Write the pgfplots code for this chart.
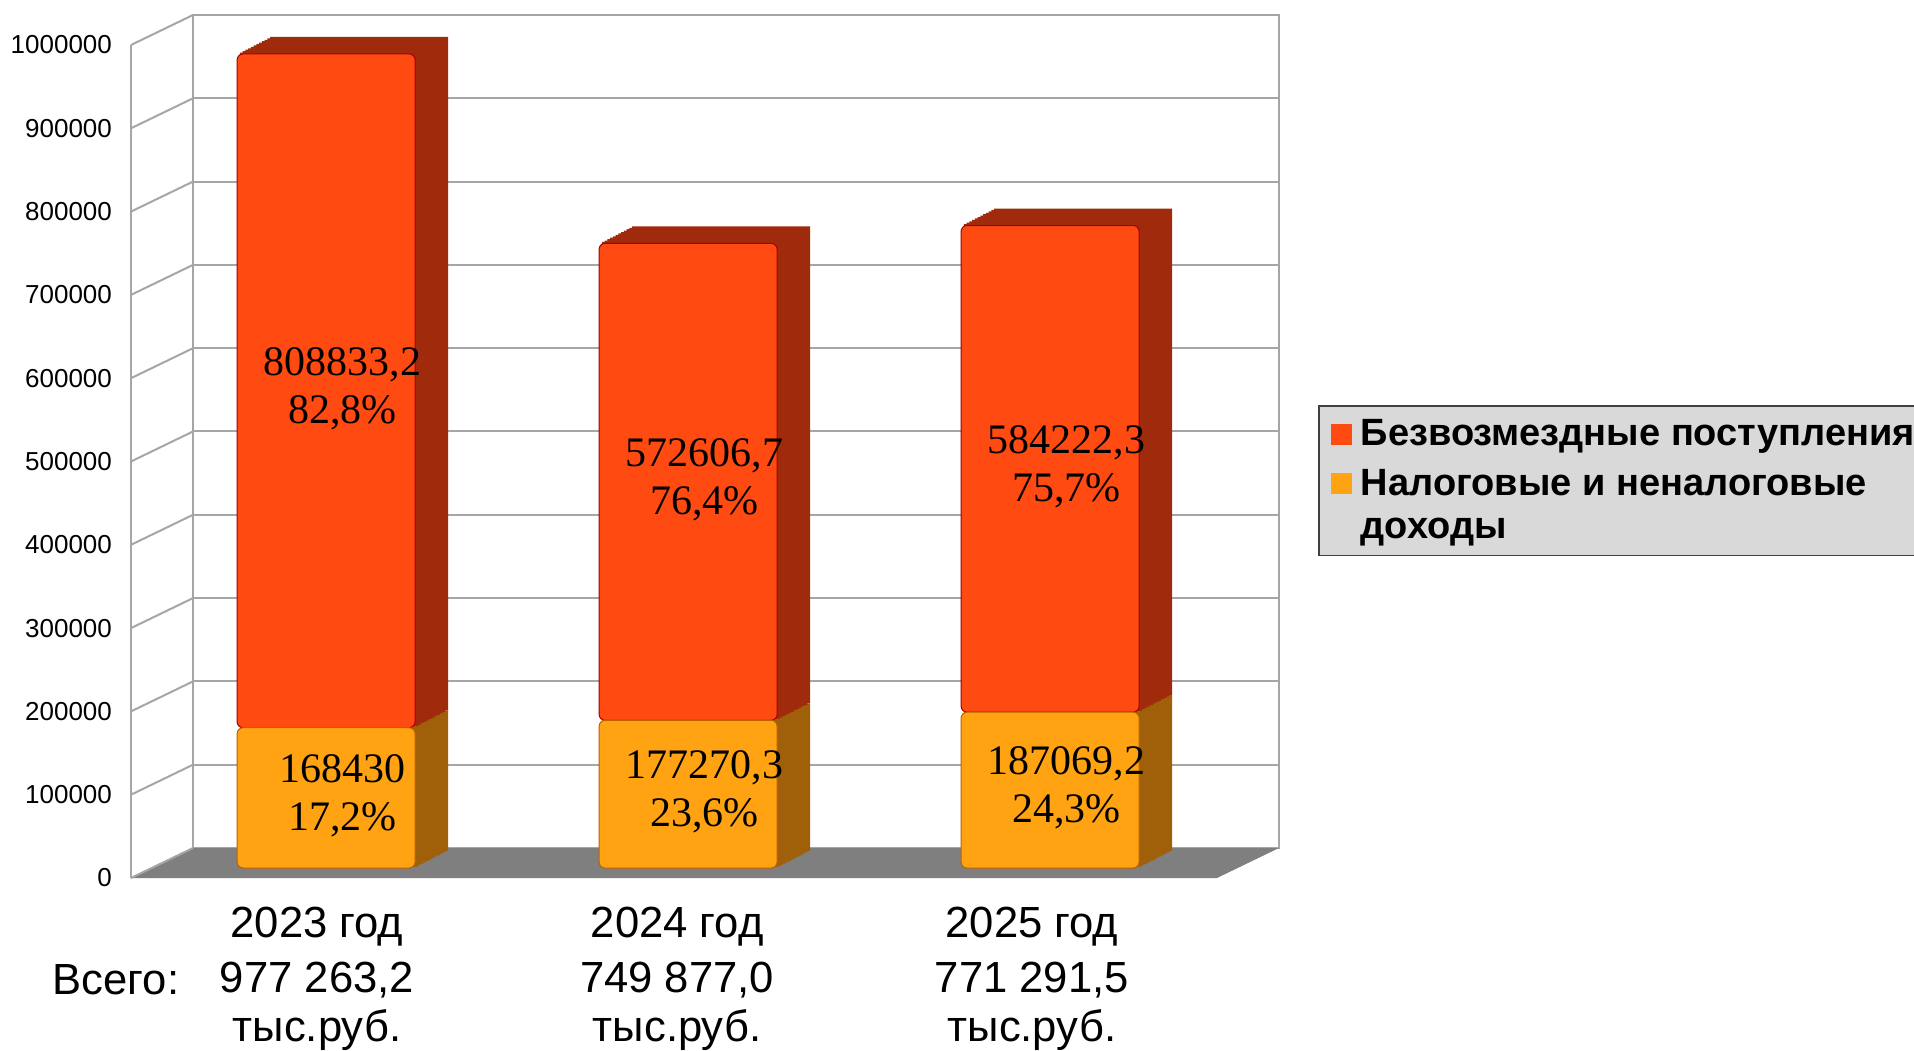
\documentclass[border=0pt]{standalone}
\usepackage{pgfplots}
\pgfplotsset{compat=1.18}
\usepackage{pgfplotstable}
\usepackage{fontspec}
\setmainfont{Liberation Sans}
\newfontfamily\serifnum{Liberation Serif}
\definecolor{barred}{HTML}{FF4A12}
\definecolor{redside}{HTML}{A02A0C}
\definecolor{barorange}{HTML}{FFA312}
\definecolor{orangeside}{HTML}{A0600A}
\definecolor{floorgray}{HTML}{7F7F7F}
\definecolor{gridgray}{HTML}{A6A6A6}
\definecolor{leggray}{HTML}{D9D9D9}
\definecolor{legborder}{HTML}{404040}

\pgfplotstableread{
x lower upper
0 168430 808833.2
1 177270.3 572606.7
2 187069.2 584222.3
}\datatable

\pgfplotsset{
  common/.style={scale only axis, width=543pt, height=416.5pt, anchor=south west,
    ymin=0, ymax=1000000, clip=false, scaled y ticks=false},
  barax/.style={common, xmin=-0.482, xmax=2.518, hide axis, ybar stacked, bar width=89pt},
}
\tikzset{lab/.style={font=\serifnum\fontsize{21}{24}\selectfont, align=center, xshift=8.25pt, yshift=1.2pt}}

\begin{document}
\begin{tikzpicture}
\useasboundingbox (0,0) rectangle (957pt,525pt);
% back wall
\begin{axis}[common,
  at={(96.5pt,101pt)},
  xmin=0, xmax=1,
  xtick=\empty,
  ytick={0,100000,200000,300000,400000,500000,600000,700000,800000,900000,1000000},
  yticklabels={},
  major tick length=0pt,
  ymajorgrids, grid style={gridgray, line width=1pt},
  axis line style={gridgray, line width=1pt},
]
\addplot[draw=none, forget plot] coordinates {(0,0)};
\end{axis}
% front plane: floor, side lines, labels, legend
\begin{axis}[common,
  at={(65.5pt,86pt)},
  xmin=-0.5387, xmax=2.4613,
  axis lines*=left,
  x axis line style={draw=none},
  y axis line style={gridgray, line width=1pt},
  major tick length=0pt,
  ytick={0,100000,200000,300000,400000,500000,600000,700000,800000,900000,1000000},
  yticklabels={0,100000,200000,300000,400000,500000,600000,700000,800000,900000,1000000},
  yticklabel style={font=\fontsize{13}{15}\selectfont, xshift=-6pt},
  xtick={-0.025,0.97,1.95},
  xticklabels={{2023 год\\[3pt]977 263,2\\тыс.руб.},{2024 год\\[3pt]749 877,0\\тыс.руб.},{2025 год\\[3pt]771 291,5\\тыс.руб.}},
  xticklabel style={font=\fontsize{21.8}{24.5}\selectfont, align=center, yshift=-11pt},
  legend style={at={(1.093,0.5678)}, anchor=north west, fill=leggray, draw=legborder,
    line width=0.8pt, font=\bfseries\fontsize{19}{22}\selectfont,
    inner xsep=6pt, inner ysep=5pt, row sep=6pt,
    /tikz/every odd column/.append style={column sep=2.5pt}},
  legend cell align=left,
  legend image code/.code={\fill[#1, draw=none] (0pt,-5.25pt) rectangle (10.5pt,5.25pt);},
]
\addplot[draw=none, forget plot] coordinates {(0,0)};
\fill[floorgray] (rel axis cs:0,0) -- (rel axis cs:1,0) -- ++(31pt,15pt) -- ++(-543pt,0pt) -- cycle;
\pgfplotsinvokeforeach{0,100000,200000,300000,400000,500000,600000,700000,800000,900000,1000000}{
  \draw[gridgray, line width=1pt] (axis cs:-0.5387,#1) -- ++(31pt,15pt);
}
\addlegendimage{fill=barred}
\addlegendentry{Безвозмездные поступления}
\addlegendimage{fill=barorange}
\addlegendentry{Налоговые и неналоговые}
\addlegendimage{empty legend}
\addlegendentry{доходы}
\end{axis}
% side and top faces of bars (extruded copies, far to near)
\foreach \k in {12,11,...,1} {
\begin{axis}[barax, at={({75.8pt+\k*1.375pt},{91pt+\k*0.7083pt})}]
\addplot[fill=orangeside, draw=none] table[x=x,y=lower]{\datatable};
\addplot[fill=redside, draw=none] table[x=x,y=upper]{\datatable};
\end{axis}
}
% front faces of bars
\begin{axis}[barax, at={(75.8pt,91pt)}]
\addplot[fill=barorange, draw=orange!75!black, line width=0.5pt, rounded corners=3pt] table[x=x,y=lower]{\datatable};
\addplot[fill=barred, draw=red!65!black, line width=0.5pt, rounded corners=3pt] table[x=x,y=upper]{\datatable};
\end{axis}
% data labels
\begin{axis}[common, at={(75.8pt,91pt)}, xmin=-0.482, xmax=2.518, hide axis]
\addplot[draw=none, forget plot] coordinates {(0,0)};
\node[lab] at (axis cs:0,84215) {168430\\17,2\%};
\node[lab] at (axis cs:0,572846.6) {808833,2\\82,8\%};
\node[lab] at (axis cs:1,88635.15) {177270,3\\23,6\%};
\node[lab] at (axis cs:1,463573.65) {572606,7\\76,4\%};
\node[lab] at (axis cs:2,93534.6) {187069,2\\24,3\%};
\node[lab] at (axis cs:2,479180.35) {584222,3\\75,7\%};
\end{axis}
\node[font=\fontsize{21.8}{24}\selectfont, anchor=base] at (58pt,28pt) {Всего:};
\end{tikzpicture}
\end{document}
